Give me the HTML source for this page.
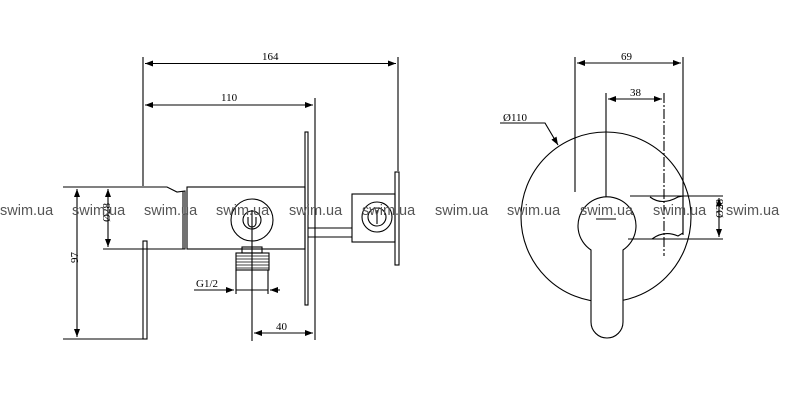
<!DOCTYPE html>
<html><head><meta charset="utf-8"><style>
html,body{margin:0;padding:0;background:#fff;width:799px;height:420px;overflow:hidden}
svg{display:block}
</style></head><body>
<svg width="799" height="420" viewBox="0 0 799 420" xmlns="http://www.w3.org/2000/svg" font-family="Liberation Serif, serif">
<defs><marker id="a" markerWidth="8" markerHeight="6" refX="8" refY="3" orient="auto-start-reverse" markerUnits="userSpaceOnUse"><path d="M0,0 L8,3 L0,6z" fill="#000"/></marker></defs>
<g stroke="#000" stroke-width="1.1" fill="none">
<line x1="143" y1="57" x2="143" y2="186"/>
<line x1="398" y1="57" x2="398" y2="171"/>
<line x1="315" y1="98" x2="315" y2="340"/>
<line x1="145" y1="63.5" x2="396" y2="63.5" marker-start="url(#a)" marker-end="url(#a)"/>
<line x1="145" y1="105" x2="313" y2="105" marker-start="url(#a)" marker-end="url(#a)"/>
<path d="M143,187 L167,187 L177,192 L185,191 L185,249 L143,249"/>
<line x1="183" y1="191" x2="183" y2="249"/>
<rect x="187" y="187" width="118" height="62"/>
<rect x="305" y="132" width="3" height="173"/>
<rect x="143" y="241" width="4" height="98"/>
<circle cx="252" cy="220" r="21"/>
<circle cx="252" cy="220" r="9"/>
<path d="M248,217 v6 a4,4 0 0 0 8,0 v-6"/>
<rect x="242" y="247" width="20" height="6"/>
<rect x="236" y="253" width="33" height="17"/>
<path d="M236,256 h33 M236,259 h33 M236,262 h33 M236,265 h33 M236,268 h33" stroke-width="0.7"/>
<line x1="252" y1="210" x2="252" y2="341"/>
<line x1="236" y1="270" x2="236" y2="294"/>
<line x1="268" y1="270" x2="268" y2="294"/>
<line x1="194" y1="290" x2="234" y2="290" marker-end="url(#a)"/>
<line x1="280" y1="290" x2="270" y2="290" marker-end="url(#a)"/>
<line x1="236" y1="290" x2="268" y2="290"/>
<line x1="254" y1="333" x2="313" y2="333" marker-start="url(#a)" marker-end="url(#a)"/>
<line x1="308" y1="228" x2="352" y2="228"/>
<line x1="308" y1="237" x2="352" y2="237"/>
<rect x="352" y="194" width="43" height="48"/>
<rect x="395" y="172" width="4" height="93"/>
<circle cx="377" cy="217" r="15"/>
<circle cx="377" cy="217" r="9"/>
<line x1="377" y1="210" x2="377" y2="224"/>
<line x1="63" y1="187" x2="143" y2="187"/>
<line x1="103" y1="249" x2="143" y2="249"/>
<line x1="63" y1="339" x2="143" y2="339"/>
<line x1="77" y1="189" x2="77" y2="337" marker-start="url(#a)" marker-end="url(#a)"/>
<line x1="108" y1="189" x2="108" y2="247" marker-start="url(#a)" marker-end="url(#a)"/>
<line x1="575" y1="57" x2="575" y2="192"/>
<line x1="683" y1="57" x2="683" y2="235"/>
<line x1="577" y1="63" x2="681" y2="63" marker-start="url(#a)" marker-end="url(#a)"/>
<line x1="606" y1="93" x2="606" y2="232"/>
<line x1="664" y1="93" x2="664" y2="256" stroke-dasharray="10,2,2,2"/>
<line x1="608" y1="99" x2="662" y2="99" marker-start="url(#a)" marker-end="url(#a)"/>
<circle cx="606" cy="217" r="85"/>
<path d="M500,123 L545,123 L558,145" marker-end="url(#a)"/>
<path d="M591,300 L591,250 A29,29 0 1 1 623,250 L623,322 A16,16 0 0 1 591,322 Z" fill="#fff"/>
<line x1="596" y1="219" x2="616" y2="219"/>
<line x1="630" y1="196" x2="723" y2="196"/>
<line x1="628" y1="239" x2="723" y2="239"/>
<path d="M650,197 q12,9 28,0 L683,196 L683,233 L678,236 q-14,-6 -26,3"/>
<line x1="719" y1="198" x2="719" y2="237" marker-start="url(#a)" marker-end="url(#a)"/>
</g>
<g font-size="11" fill="#000">
<text x="262" y="60">164</text>
<text x="221" y="101">110</text>
<text x="196" y="287">G1/2</text>
<text x="276" y="330">40</text>
<text x="72" y="269" transform="rotate(-90 72 263)">97</text>
<text x="104" y="228" transform="rotate(-90 104 222)">Ø28</text>
<text x="621" y="60">69</text>
<text x="630" y="96">38</text>
<text x="503" y="121">Ø110</text>
<text x="715" y="226" transform="rotate(-90 715 218)">Ø28</text>
</g>
<g font-family="Liberation Sans, sans-serif" font-size="14.5" fill="#555">
<text x="0" y="215">swim.ua</text><text x="72" y="215">swim.ua</text><text x="144" y="215">swim.ua</text><text x="216" y="215">swim.ua</text><text x="289" y="215">swim.ua</text><text x="362" y="215">swim.ua</text><text x="435" y="215">swim.ua</text><text x="507" y="215">swim.ua</text><text x="580" y="215">swim.ua</text><text x="653" y="215">swim.ua</text><text x="726" y="215">swim.ua</text>
</g>
</svg>
</body></html>
